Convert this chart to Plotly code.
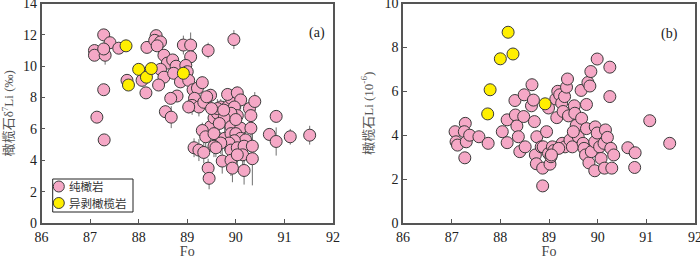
import plotly.graph_objects as go

# ---------------- Data: panel (a) olivine d7Li vs Fo ----------------
fo_a_dun = [89.96, 89.43, 87.28, 87.41, 87.09, 87.09, 87.31, 87.28, 87.59, 87.76,
            87.28, 87.14, 87.29, 88.17, 88.36, 88.33, 88.45, 88.38, 88.52, 88.59,
            88.45, 88.52, 88.41, 88.15, 88.07, 88.70, 88.77, 88.72, 88.86, 88.79,
            88.66, 88.55, 88.67, 88.92, 89.07, 89.07, 88.97, 89.00, 89.03, 89.12,
            89.21, 89.31, 89.15, 89.10, 89.24, 89.34, 89.48, 89.40, 89.03, 89.48,
            89.55, 89.62, 89.69, 89.83, 89.90, 89.83, 90.03, 90.10, 89.97, 90.28,
            90.39, 90.31, 90.03, 89.90, 89.76, 89.66, 89.90, 90.10, 90.31, 89.31,
            89.38, 89.55, 89.77, 89.90, 90.00, 90.10, 90.20, 89.97, 89.86, 89.69,
            89.55, 89.59, 89.14, 89.24, 89.34, 89.90, 90.03, 90.17, 90.34, 90.14,
            90.34, 89.72, 89.90, 90.03, 89.93, 90.17, 89.43, 89.45, 90.69, 90.83,
            90.83, 91.12, 91.52, 89.62, 89.75, 89.50, 90.00]
d7li_a_dun = [11.7, 11.0, 12.0, 11.5, 11.0, 10.7, 10.7, 11.1, 11.15, 9.1,
              8.5, 6.75, 5.3, 11.2, 11.95, 11.65, 11.55, 11.3, 10.7, 10.2,
              9.8, 9.3, 8.8, 8.3, 9.1, 10.4, 10.0, 9.55, 9.0, 8.1,
              7.95, 7.1, 6.75, 11.35, 11.35, 10.6, 10.05, 9.65, 9.1, 8.5,
              8.6, 8.95, 7.95, 7.5, 7.4, 7.7, 8.15, 8.05, 7.4, 6.15,
              6.7, 7.0, 7.4, 7.4, 7.95, 8.2, 8.3, 7.85, 7.4, 7.3,
              7.75, 6.85, 6.85, 7.0, 6.7, 6.35, 6.15, 6.05, 6.05, 5.9,
              5.5, 5.7, 5.4, 5.7, 5.7, 5.4, 5.3, 5.25, 5.1, 5.1,
              4.9, 4.8, 4.8, 4.65, 4.5, 4.65, 4.8, 4.9, 4.9, 4.35,
              4.1, 3.95, 4.0, 4.35, 3.5, 3.35, 3.5, 2.85, 5.65, 6.8,
              5.2, 5.5, 5.6, 7.3, 7.2, 7.3, 6.6]
err_a_dun = [0.6, 0.5, 0.3, 0.3, 0.3, 0.3, 0.6, 0.3, 0.3, 0.3,
             0.3, 0.3, 0.3, 0.3, 0.3, 0.3, 0.3, 0.3, 0.3, 0.3,
             0.3, 0.3, 0.3, 0.3, 0.3, 0.3, 0.3, 0.3, 0.3, 0.3,
             0.3, 0.4, 0.7, 0.6, 0.8, 0.5, 0.5, 0.6, 0.4, 0.4,
             0.5, 0.4, 0.4, 0.6, 0.6, 0.5, 0.4, 0.4, 0.4, 0.5,
             0.6, 0.6, 0.5, 0.6, 0.6, 0.4, 0.4, 0.6, 0.6, 0.5,
             0.6, 0.6, 0.6, 0.6, 0.7, 0.7, 0.7, 0.8, 0.7, 0.5,
             0.7, 0.6, 0.8, 0.9, 0.8, 0.8, 0.8, 0.9, 0.8, 0.7,
             0.7, 0.6, 0.6, 0.7, 0.7, 1.0, 0.9, 1.0, 1.0, 1.0,
             1.7, 0.8, 1.0, 1.0, 0.9, 0.9, 0.6, 0.7, 0.4, 0.3,
             0.9, 0.5, 0.6, 0.6, 0.6, 0.6, 0.6]
fo_a_ww = [87.74, 87.79, 88.00, 88.16, 88.26, 88.92]
d7li_a_ww = [11.3, 8.8, 9.8, 9.3, 9.85, 9.55]

# ---------------- Data: panel (b) olivine Li vs Fo ----------------
fo_b_dun = [87.07, 87.09, 87.12, 87.28, 87.26, 87.30, 87.27, 87.37, 87.56, 87.75,
            88.04, 88.14, 88.14, 88.30, 88.31, 88.34, 88.37, 88.40, 88.48, 88.49,
            88.51, 88.65, 88.64, 88.70, 88.68, 88.72, 88.74, 88.75, 88.84, 88.87,
            88.87, 88.88, 88.95, 88.99, 89.02, 89.04, 88.99, 89.07, 89.14, 89.16,
            89.18, 89.22, 89.26, 89.29, 89.32, 89.27, 89.33, 89.36, 89.38, 89.40,
            89.43, 89.48, 89.52, 89.53, 89.56, 89.60, 89.50, 89.66, 89.67, 89.70,
            89.72, 89.75, 89.77, 89.77, 89.80, 89.84, 89.86, 89.82, 89.87, 89.94,
            89.94, 89.95, 89.99, 89.99, 90.04, 90.07, 90.13, 90.14, 90.16, 90.20,
            90.25, 90.25, 90.27, 90.29, 90.33, 90.62, 90.77, 90.76, 91.07, 91.48,
            89.10, 89.20, 89.05]
li_b_dun = [4.16, 3.70, 3.55, 4.54, 4.16, 3.70, 2.97, 4.00, 3.93, 3.63,
            4.16, 4.70, 3.66, 5.58, 4.92, 4.42, 3.93, 3.25, 4.85, 5.84,
            3.47, 6.30, 5.34, 4.62, 5.60, 3.10, 2.70, 3.93, 3.47, 2.50,
            1.69, 3.47, 4.16, 3.17, 2.68, 3.02, 5.24, 3.47, 5.65, 4.80,
            6.00, 5.84, 5.46, 5.08, 5.76, 3.63, 3.47, 6.19, 6.56, 4.88,
            3.78, 3.47, 5.34, 5.00, 4.45, 3.93, 4.16, 6.04, 4.77, 3.63,
            3.40, 3.10, 4.30, 5.40, 6.40, 6.24, 6.90, 2.74, 3.25, 2.38,
            3.70, 4.38, 7.47, 4.10, 3.47, 2.94, 3.63, 2.50, 4.24, 3.90,
            7.10, 5.76, 3.40, 2.50, 3.10, 3.43, 3.20, 2.53, 4.66, 3.63,
            3.30, 3.40, 3.10]
fo_b_ww = [87.74, 87.79, 88.00, 88.16, 88.26, 88.92]
li_b_ww = [4.97, 6.07, 7.48, 8.69, 7.70, 5.43]

legend_names = ["纯橄岩", "异剥橄榄岩"]
x_ticks = [86, 87, 88, 89, 90, 91, 92]
ya_ticks = [0, 2, 4, 6, 8, 10, 12, 14]
yb_ticks = [0, 2, 4, 6, 8, 10]

PINK = "#F5A8C6"
YELLOW = "#FFEF00"
EDGE = "#3a3a3a"
AX = "#555555"
FONT = "Liberation Serif, Noto Sans CJK SC, serif"

fig = go.Figure()

fig.add_trace(go.Scatter(
    x=fo_a_dun, y=d7li_a_dun, mode="markers", name=legend_names[0],
    error_y=dict(type="data", array=err_a_dun, visible=True, color="#707070",
                 thickness=1, width=0),
    marker=dict(size=12, color=PINK, line=dict(color=EDGE, width=1)),
    xaxis="x", yaxis="y", showlegend=False))
fig.add_trace(go.Scatter(
    x=fo_a_ww, y=d7li_a_ww, mode="markers", name=legend_names[1],
    marker=dict(size=12, color=YELLOW, line=dict(color=EDGE, width=1)),
    xaxis="x", yaxis="y", showlegend=False))
fig.add_trace(go.Scatter(
    x=fo_b_dun, y=li_b_dun, mode="markers", name=legend_names[0], showlegend=False,
    marker=dict(size=12, color=PINK, line=dict(color=EDGE, width=1)),
    xaxis="x2", yaxis="y2"))
fig.add_trace(go.Scatter(
    x=fo_b_ww, y=li_b_ww, mode="markers", name=legend_names[1], showlegend=False,
    marker=dict(size=12, color=YELLOW, line=dict(color=EDGE, width=1)),
    xaxis="x2", yaxis="y2"))

W, H = 700, 259
ydom = [1 - 223 / H, 1 - 3.5 / H]

common_x = dict(range=[86, 92], tickvals=x_ticks, ticks="inside", ticklen=4,
                tickcolor=AX, showline=True, linecolor=AX, linewidth=1.5,
                mirror=True, showgrid=False, zeroline=False, automargin=False,
                ticklabeloverflow="allow",
                tickfont=dict(family=FONT, size=14, color="#222"),
                title=dict(text="Fo", font=dict(family=FONT, size=14, color="#444"),
                           standoff=2))
common_y = dict(ticks="inside", ticklen=4, tickcolor=AX, showline=True,
                linecolor=AX, linewidth=1.5, mirror=True, showgrid=False,
                zeroline=False, automargin=False, ticklabeloverflow="allow",
                tickfont=dict(family=FONT, size=14, color="#222"))

# manual compact legend (box, symbols, labels) in paper pixels
def px(x):
    return x / W

def py(y):
    return 1 - y / H

shapes = [
    dict(type="rect", xref="paper", yref="paper", x0=px(52.7), x1=px(133),
         y0=py(212), y1=py(179), line=dict(color="#222", width=1),
         fillcolor="white", layer="above"),
]
legend_colors = [PINK, YELLOW]
legend_rows = [186.5, 203]
annotations = [
    dict(text="(a)", x=px(317), y=py(23), xref="paper", yref="paper",
         showarrow=False, font=dict(family=FONT, size=14, color="#222")),
    dict(text="(b)", x=px(680), y=py(24), xref="paper", yref="paper",
         showarrow=False, font=dict(family=FONT, size=14, color="#222")),
]
for name, col, ry in zip(legend_names, legend_colors, legend_rows):
    shapes.append(dict(type="circle", xref="paper", yref="paper",
                       x0=px(58.8 - 5.5), x1=px(58.8 + 5.5),
                       y0=py(ry + 5.5), y1=py(ry - 5.5),
                       fillcolor=col, line=dict(color=EDGE, width=1), layer="above"))
    annotations.append(dict(text=name, x=px(67), y=py(ry), xref="paper", yref="paper",
                            xanchor="left", yanchor="middle", showarrow=False,
                            font=dict(family=FONT, size=11.5, color="#333")))

fig.update_layout(
    width=W, height=H, margin=dict(l=0, r=0, t=0, b=0),
    paper_bgcolor="white", plot_bgcolor="white",
    font=dict(family=FONT), showlegend=False,
    xaxis=dict(domain=[41.5 / W, 333 / W], anchor="y", **common_x),
    xaxis2=dict(domain=[403 / W, 695 / W], anchor="y2", **common_x),
    yaxis=dict(domain=ydom, anchor="x", range=[0, 14], tickvals=ya_ticks,
               title=dict(text="橄榄石δ<sup>7</sup>Li (‰)",
                          font=dict(family=FONT, size=13, color="#555"), standoff=8),
               **common_y),
    yaxis2=dict(domain=ydom, anchor="x2", range=[0, 10], tickvals=yb_ticks,
                title=dict(text="橄榄石Li (10<sup>-6</sup>)",
                           font=dict(family=FONT, size=13, color="#555"), standoff=8),
                **common_y),
    shapes=shapes,
    annotations=annotations,
)

fig.write_html("out.html", config={"displayModeBar": False},
               post_script="document.body.style.margin='0';document.body.style.padding='0';")
